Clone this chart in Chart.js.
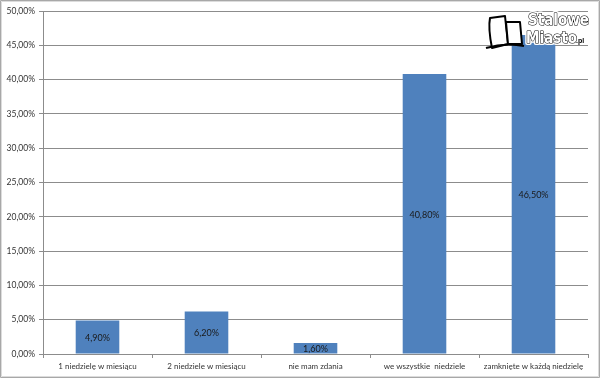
<!DOCTYPE html>
<html><head><meta charset="utf-8">
<script src="https://cdn.jsdelivr.net/npm/chart.js@4.4.1/dist/chart.umd.min.js"></script>
<style>html,body{margin:0;padding:0;background:#fff}#w{width:600px;height:378px;position:relative}</style>
</head><body><div id="w"><canvas id="c" width="600" height="378"></canvas></div>
<script>
const categories = ["1 niedzielę w miesiącu","2 niedziele w miesiącu","nie mam zdania","we wszystkie  niedziele","zamknięte w każdą niedzielę"];
const values = [4.9, 6.2, 1.6, 40.8, 46.5];
const yTicks = [0,5,10,15,20,25,30,35,40,45,50];
const fmt = v => v.toFixed(2).replace('.', ',') + '%';
const FONT = "Lato, 'Open Sans', sans-serif";

const valueLabels = {
  id:'valueLabels',
  afterDatasetsDraw(chart){
    const ctx = chart.ctx; const meta = chart.getDatasetMeta(0);
    ctx.save(); ctx.font = "9px " + FONT; ctx.fillStyle = "#1a1a1a";
    ctx.textAlign = "center"; ctx.textBaseline = "middle";
    meta.data.forEach((b,i)=>{ ctx.fillText(fmt(values[i]), b.x, (b.y + b.base)/2 + 1); });
    ctx.restore();
  }
};
const frame = {
  id:'frame',
  afterDraw(chart){
    const ctx = chart.ctx; ctx.save();
    ctx.font = "bold 15px 'DejaVu Sans Condensed', 'Liberation Sans Narrow', sans-serif";
    ctx.textAlign = "left"; ctx.textBaseline = "alphabetic";
    ctx.lineJoin = "round";
    [["Stalowe",528,25],["Miasto",526,43]].forEach(([t,x,y])=>{
      ctx.lineWidth = 4; ctx.strokeStyle = "#fff"; ctx.strokeText(t,x,y);
      ctx.lineWidth = 1; ctx.strokeStyle = "#000"; ctx.strokeText(t,x,y);
      ctx.fillStyle = "#fff"; ctx.fillText(t,x,y);
    });
    ctx.font = "bold 7px sans-serif"; ctx.fillStyle="#000";
    ctx.fillText(".pl", 576, 43);
    ctx.lineWidth = 2; ctx.strokeStyle="#000"; ctx.fillStyle="#fff";
    ctx.beginPath(); ctx.moveTo(492,48); ctx.quadraticCurveTo(488,28,490,18); ctx.lineTo(505,16); ctx.lineTo(508,44); ctx.closePath(); ctx.fill(); ctx.stroke();
    ctx.beginPath(); ctx.moveTo(508,44); ctx.lineTo(506,22); ctx.lineTo(520,22); ctx.lineTo(522,44); ctx.closePath(); ctx.fill(); ctx.stroke();
    ctx.lineWidth = 2; ctx.beginPath(); ctx.moveTo(486,48); ctx.quadraticCurveTo(505,42,524,46); ctx.stroke();
    ctx.strokeStyle = "#a8a8a8"; ctx.lineWidth = 1; ctx.strokeRect(0.5,0.5,599,377);
    ctx.strokeStyle = "#dcdcdc"; ctx.strokeRect(1.5,1.5,597,375);
    ctx.restore();
  }
};

new Chart(document.getElementById('c'), {
  type:'bar',
  data:{ labels: categories, datasets:[{ data: values, backgroundColor:'#4f81bd', borderWidth:0, categoryPercentage:0.8, barPercentage:0.5 }]},
  options:{
    responsive:false, animation:false,
    layout:{ padding:{ top:11, right:12, left:0, bottom:0 } },
    plugins:{ legend:{display:false}, tooltip:{enabled:false} },
    scales:{
      y:{ min:0, max:50, afterFit(s){ s.width = 43; },
        afterBuildTicks(s){ s.ticks = yTicks.map(v=>({value:v})); },
        ticks:{ callback:v=>fmt(v), font:{size:8.5, family:FONT}, color:'#333', padding:4 },
        grid:{ color:'#8c8c8c', lineWidth:1, tickLength:4, tickColor:'#8c8c8c' },
        border:{ color:'#8c8c8c' } },
      x:{ afterFit(s){ s.height = 24; },
        ticks:{ font:{size:8, family:FONT}, color:'#333', padding:4, maxRotation:0, autoSkip:false },
        grid:{ offset:true, drawOnChartArea:false, tickLength:4, color:'#8c8c8c' },
        border:{ color:'#8c8c8c' } }
    }
  },
  plugins:[valueLabels, frame]
});
</script></body></html>
